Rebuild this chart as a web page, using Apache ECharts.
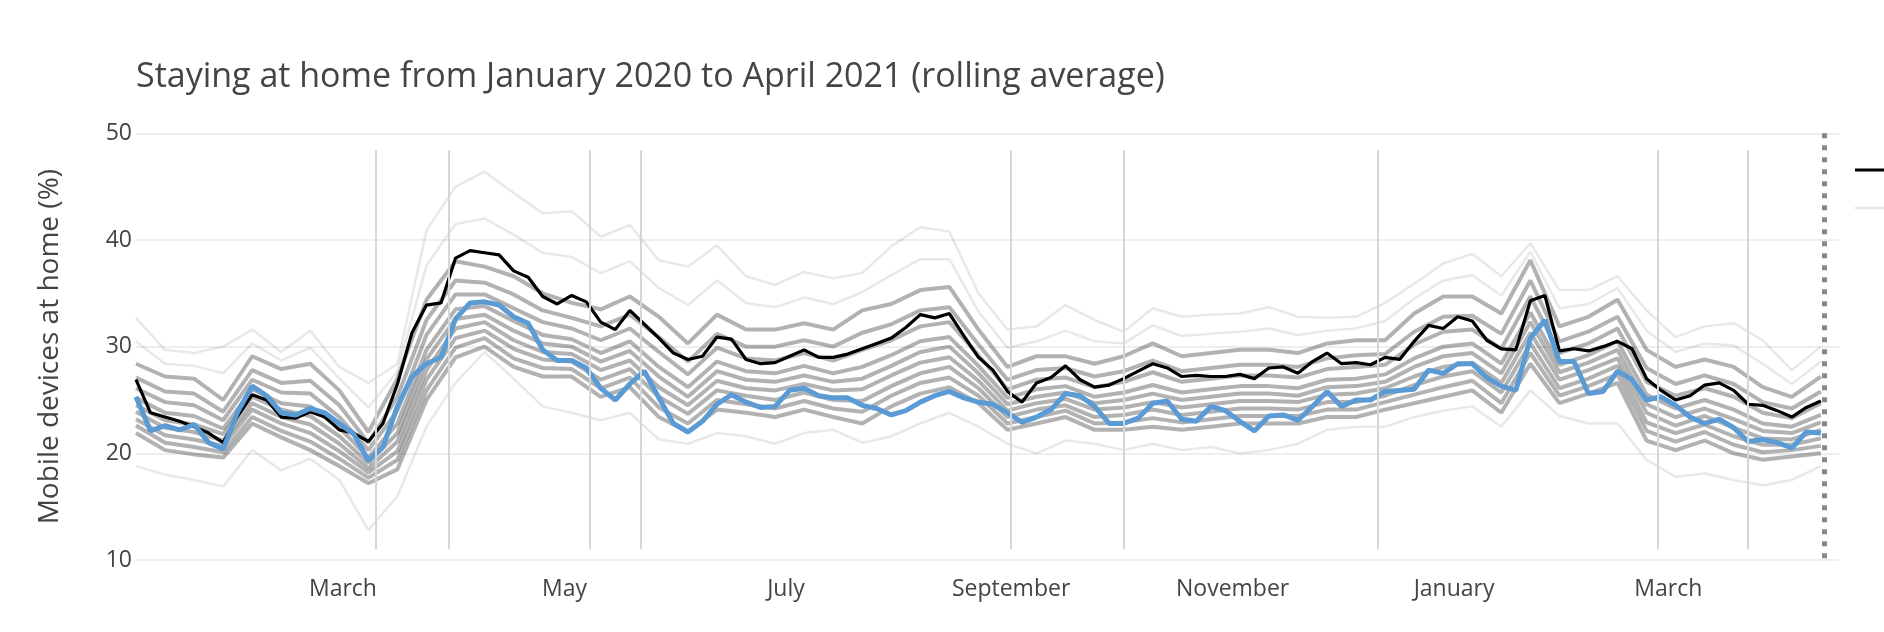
<!DOCTYPE html>
<html>
<head>
<meta charset="utf-8">
<script src="https://cdn.jsdelivr.net/npm/echarts@6/dist/echarts.min.js"></script>
<style>
html,body{margin:0;padding:0;background:#fff;}
#chart{width:1884px;height:632px;}
</style>
</head>
<body>
<div id="chart"></div>
<script>
// ---- DATA ----
var titleText = 'Staying at home from January 2020 to April 2021 (rolling average)';
var yAxisName = 'Mobile devices at home (%)';
var monthNames = ['January','February','March','April','May','June','July','August','September','October','November','December'];
var legendNames = ['Average', 'Regions'];

// dates: every 4 days from 2020-01-04 (117 points)
var startDate = [2020, 0, 4];
var stepDays = 4;
var nPoints = 117;

var averageValues = [
  26.9,23.8,23.4,23.0,22.5,21.9,21.0,23.5,25.5,25.0,
  23.4,23.3,23.9,23.4,22.2,21.9,21.1,22.8,26.5,31.3,
  33.9,34.1,38.3,39.0,38.8,38.6,37.1,36.5,34.7,34.0,
  34.8,34.2,32.3,31.6,33.4,32.1,30.8,29.4,28.8,29.1,
  30.9,30.7,28.8,28.4,28.5,29.1,29.7,29.0,29.0,29.3,
  29.8,30.3,30.8,31.8,33.0,32.7,33.1,31.0,29.0,27.8,
  25.8,24.8,26.6,27.1,28.2,26.9,26.2,26.4,27.0,27.7,
  28.4,28.0,27.2,27.3,27.2,27.2,27.4,27.0,28.0,28.1,
  27.5,28.6,29.4,28.4,28.5,28.3,29.0,28.8,30.5,32.0,
  31.7,32.8,32.4,30.6,29.8,29.7,34.3,34.8,29.6,29.8,
  29.6,30.0,30.5,29.8,27.0,25.9,25.0,25.4,26.4,26.6,
  25.9,24.6,24.5,24.0,23.4,24.3,24.9
];
var highlightValues = [
  25.3,22.1,22.6,22.2,22.7,21.0,20.4,23.9,26.3,25.4,
  23.8,23.6,24.2,23.8,22.8,21.8,19.3,20.6,24.4,27.2,
  28.4,29.0,32.6,34.1,34.2,33.9,32.8,32.2,29.7,28.7,
  28.7,28.0,26.1,25.0,26.5,27.7,25.2,22.8,22.0,23.0,
  24.6,25.5,24.8,24.3,24.4,25.9,26.1,25.4,25.2,25.2,
  24.5,24.2,23.6,24.0,24.8,25.4,25.8,25.2,24.8,24.6,
  23.8,22.9,23.4,24.1,25.6,25.4,24.4,22.8,22.8,23.3,
  24.7,24.9,23.2,23.0,24.4,24.0,23.0,22.1,23.5,23.6,
  23.1,24.4,25.8,24.4,25.0,25.0,25.8,25.9,26.0,27.8,
  27.5,28.4,28.4,27.1,26.3,25.9,30.8,32.5,28.6,28.6,
  25.6,25.8,27.7,26.9,25.0,25.3,24.5,23.4,22.8,23.2,
  22.4,21.1,21.3,21.0,20.5,22.0,21.9
];

// regional lines, sampled every 8 days (every second date)
var region1 = [32.7,29.7,29.4,30.0,31.6,29.5,31.5,28.1,26.6,28.4,40.9,45.0,46.4,44.4,42.5,42.7,40.3,41.4,38.1,37.5,39.5,36.6,35.8,37.0,36.4,36.9,39.4,41.2,40.8,35.0,31.6,31.9,33.9,32.5,31.4,33.6,32.8,33.0,33.1,33.7,32.8,32.7,32.8,34.1,35.9,37.8,38.7,36.6,39.7,35.3,35.3,36.6,33.4,30.9,31.9,32.2,30.6,27.8,30.0];
var region2 = [30.5,28.4,28.2,27.5,30.3,28.7,29.9,27.0,24.3,27.7,37.6,41.5,42.0,40.5,38.8,38.4,36.9,38.0,35.5,33.9,36.2,34.1,33.7,34.6,34.0,35.1,36.7,38.2,38.2,33.3,29.9,30.5,31.5,30.5,30.3,32.0,31.0,31.2,31.4,31.7,31.1,31.5,31.7,32.4,34.5,36.2,36.7,34.8,38.9,33.6,34.0,35.5,31.5,29.5,30.3,30.1,28.4,26.5,28.6];
var region3 = [28.4,27.2,27.0,25.0,29.1,27.9,28.4,25.9,22.0,27.0,34.4,38.0,37.5,36.6,35.0,34.1,33.5,34.7,32.8,30.3,33.0,31.6,31.6,32.2,31.6,33.4,34.0,35.3,35.6,31.6,28.1,29.1,29.1,28.4,29.1,30.3,29.1,29.4,29.7,29.7,29.4,30.3,30.6,30.6,33.1,34.7,34.7,33.1,38.1,31.9,32.8,34.4,29.7,28.1,28.8,28.1,26.2,25.3,27.2];
var region4 = [27.1,25.8,25.6,23.9,27.8,26.6,26.8,24.5,21.0,25.3,32.5,36.2,36.0,34.9,33.4,32.7,31.9,33.0,30.9,28.6,31.2,30.0,30.0,30.6,30.0,31.3,32.1,33.4,33.7,30.2,26.9,27.8,28.0,27.2,27.7,28.7,27.7,28.0,28.3,28.3,28.1,28.9,29.2,29.3,31.4,32.8,32.9,31.2,36.2,30.5,31.4,32.8,28.0,26.5,27.3,26.5,24.8,24.2,25.8];
var region5 = [26.1,24.8,24.5,23.1,26.9,25.7,25.6,23.4,20.3,24.0,31.1,34.9,34.9,33.6,32.3,31.7,30.6,31.7,29.5,27.4,29.9,28.9,28.7,29.4,28.7,29.7,30.6,31.9,32.3,29.2,26.0,26.9,27.1,26.2,26.7,27.6,26.7,27.0,27.3,27.3,27.1,27.9,28.1,28.3,30.2,31.4,31.6,29.8,34.7,29.4,30.3,31.7,26.7,25.4,26.1,25.3,23.8,23.3,24.7];
var region6 = [25.2,23.8,23.5,22.3,26.0,24.7,24.4,22.4,19.6,22.8,29.7,33.5,33.8,32.4,31.1,30.7,29.4,30.5,28.1,26.2,28.6,27.7,27.5,28.2,27.5,28.1,29.2,30.5,30.9,28.2,25.2,26.0,26.3,25.3,25.7,26.4,25.7,26.0,26.3,26.3,26.1,26.9,27.0,27.4,28.9,30.0,30.3,28.4,33.2,28.3,29.2,30.5,25.5,24.2,25.0,24.1,22.8,22.5,23.6];
var region7 = [24.5,23.1,22.7,21.8,25.3,24.1,23.5,21.6,19.1,21.9,28.8,32.6,33.0,31.5,30.3,30.0,28.6,29.6,27.2,25.3,27.7,26.9,26.7,27.3,26.7,27.0,28.2,29.5,30.0,27.5,24.6,25.3,25.7,24.7,25.0,25.6,25.0,25.3,25.6,25.6,25.4,26.2,26.3,26.7,28.1,29.1,29.4,27.5,32.3,27.6,28.5,29.7,24.6,23.4,24.2,23.2,22.1,21.9,22.9];
var region8 = [23.9,22.4,22.0,21.2,24.7,23.4,22.7,20.9,18.6,21.1,27.8,31.7,32.3,30.6,29.5,29.3,27.8,28.7,26.2,24.5,26.8,26.1,25.9,26.5,25.9,26.0,27.3,28.5,29.0,26.8,24.0,24.7,25.1,24.1,24.3,24.8,24.3,24.6,24.9,24.9,24.8,25.5,25.6,26.1,27.2,28.1,28.5,26.6,31.3,26.9,27.8,28.9,23.8,22.6,23.5,22.4,21.4,21.3,22.2];
var region9 = [23.2,21.7,21.3,20.7,24.1,22.8,21.9,20.2,18.2,20.2,26.9,30.8,31.5,29.8,28.8,28.6,26.9,27.9,25.3,23.7,25.9,25.4,25.0,25.7,25.0,24.9,26.3,27.5,28.1,26.1,23.4,24.1,24.5,23.4,23.6,24.1,23.6,23.9,24.2,24.2,24.1,24.8,24.8,25.4,26.4,27.2,27.7,25.7,30.3,26.1,27.0,28.2,22.9,21.9,22.7,21.6,20.8,20.8,21.4];
var region10 = [22.6,21.0,20.6,20.1,23.4,22.1,21.1,19.5,17.7,19.4,25.9,29.9,30.8,28.9,28.0,27.9,26.1,27.1,24.3,22.8,25.0,24.6,24.2,24.9,24.2,23.9,25.4,26.6,27.1,25.4,22.8,23.4,24.0,22.8,22.9,23.3,22.9,23.2,23.5,23.5,23.5,24.1,24.1,24.8,25.5,26.2,26.8,24.7,29.4,25.4,26.3,27.4,22.1,21.1,22.0,20.8,20.1,20.3,20.7];
var region11 = [21.9,20.3,19.9,19.6,22.8,21.5,20.3,18.8,17.2,18.5,25.0,29.0,30.0,28.1,27.2,27.2,25.3,26.2,23.4,22.0,24.1,23.8,23.4,24.1,23.4,22.8,24.4,25.6,26.2,24.7,22.2,22.8,23.4,22.2,22.2,22.5,22.2,22.5,22.8,22.8,22.8,23.4,23.4,24.1,24.7,25.3,25.9,23.8,28.4,24.7,25.6,26.6,21.2,20.3,21.2,20.0,19.4,19.7,20.0];
var region12 = [18.8,18.0,17.5,16.9,20.3,18.4,19.5,17.5,12.8,16.0,22.5,26.6,29.5,27.0,24.4,23.8,23.1,23.8,21.3,20.9,21.9,21.6,20.9,21.9,22.2,21.0,21.6,22.8,23.8,22.5,20.9,20.0,21.2,20.9,20.3,20.9,20.3,20.6,20.0,20.3,20.9,22.2,22.5,22.5,23.4,24.0,24.4,22.5,25.9,23.5,22.8,22.8,19.4,17.8,18.1,17.5,17.0,17.5,18.8];
var regionLines = [region1, region2, region3, region4, region5, region6, region7, region8, region9, region10, region11, region12];
var regionIsCore = [false, false, true, true, true, true, true, true, true, true, true, false];

// event dates (vertical reference lines) and last data date
var eventDates = ['2020-03-10','2020-03-30','2020-05-08','2020-05-22','2020-09-01','2020-10-02','2020-12-11','2021-02-26','2021-03-23'];
var lastDate = '2021-04-13';
var xMin = '2020-01-04';
var xMax = '2021-04-17';

// ---- BUILD ----
function parseDay(s){ var p = s.split('-'); return new Date(+p[0], +p[1]-1, +p[2]).getTime(); }
var dates4 = [];
for (var i = 0; i < nPoints; i++) {
  dates4.push(new Date(startDate[0], startDate[1], startDate[2] + stepDays*i).getTime());
}
var dates8 = dates4.filter(function(d, i){ return i % 2 === 0; });
function zip(ds, vs){ return vs.map(function(v, i){ return [ds[i], v]; }); }

var coreColor = 'rgba(0,0,0,0.3)';
var outerColor = 'rgba(0,0,0,0.09)';
var series = [];
regionLines.forEach(function(vals, k){
  var c = regionIsCore[k] ? coreColor : outerColor;
  series.push({
    name: legendNames[1], type: 'line', data: zip(dates8, vals),
    showSymbol: false, symbol: 'none', z: 1, silent: true,
    color: c, lineStyle: { width: regionIsCore[k] ? 4 : 2.5, color: c }
  });
});

var eventLines = eventDates.map(function(d){
  return [{ coord: [parseDay(d), 48.4] }, { coord: [parseDay(d), 11.0] }];
});
series.push({
  name: 'events', type: 'line', data: [], z: 2, silent: true,
  markLine: {
    silent: true, symbol: ['none','none'], label: { show: false }, animation: false,
    lineStyle: { color: '#d6d6d6', width: 2, type: 'solid' },
    data: eventLines.concat([[
      { coord: [parseDay(lastDate), 50], lineStyle: { color: '#888888', width: 5, type: [5,7] } },
      { coord: [parseDay(lastDate), 10] }
    ]])
  }
});

series.push({
  name: legendNames[0], type: 'line', data: zip(dates4, averageValues),
  showSymbol: false, symbol: 'none', z: 3, color: '#000',
  lineStyle: { width: 3.2, color: '#000' }
});
series.push({
  name: 'highlight', type: 'line', data: zip(dates4, highlightValues),
  showSymbol: false, symbol: 'none', z: 4, color: '#5b9bd5',
  lineStyle: { width: 5, color: '#5b9bd5' }
});

var chart = echarts.init(document.getElementById('chart'), null, { renderer: 'canvas' });
chart.setOption({
  animation: false,
  backgroundColor: '#fff',
  textStyle: { fontFamily: 'Open Sans' },
  title: {
    text: titleText, left: 131, top: 55,
    textStyle: { fontFamily: 'Open Sans', fontSize: 34, fontWeight: 'normal', color: '#444' }
  },
  legend: {
    orient: 'vertical', left: 1850, top: 152, itemGap: 12,
    itemWidth: 40, itemHeight: 3,
    textStyle: { fontSize: 23, color: '#444', lineHeight: 26 },
    data: [ { name: legendNames[0], icon: 'rect' }, { name: legendNames[1], icon: 'rect' } ]
  },
  grid: { left: 136, right: 45, top: 133.3, bottom: 72, containLabel: false },
  xAxis: {
    type: 'time', min: parseDay(xMin), max: parseDay(xMax),
    maxInterval: 31 * 86400000, minInterval: 28 * 86400000,
    axisLine: { show: false }, axisTick: { show: false }, splitLine: { show: false },
    axisLabel: {
      fontSize: 23, color: '#444', margin: 18, showMinLabel: false, showMaxLabel: false,
      formatter: function(v){ var d = new Date(v); return (d.getMonth() % 2 === 0 && d.getDate() === 1) ? monthNames[d.getMonth()] : ''; }
    }
  },
  yAxis: {
    type: 'value', min: 10, max: 50, interval: 10,
    name: yAxisName, nameLocation: 'middle', nameGap: 72,
    nameTextStyle: { fontSize: 28, color: '#444' },
    axisLine: { show: false }, axisTick: { show: false },
    axisLabel: { fontSize: 23, color: '#444', margin: 4 },
    splitLine: { lineStyle: { color: '#eeeeee', width: 2 } }
  },
  series: series
});
</script>
</body>
</html>
